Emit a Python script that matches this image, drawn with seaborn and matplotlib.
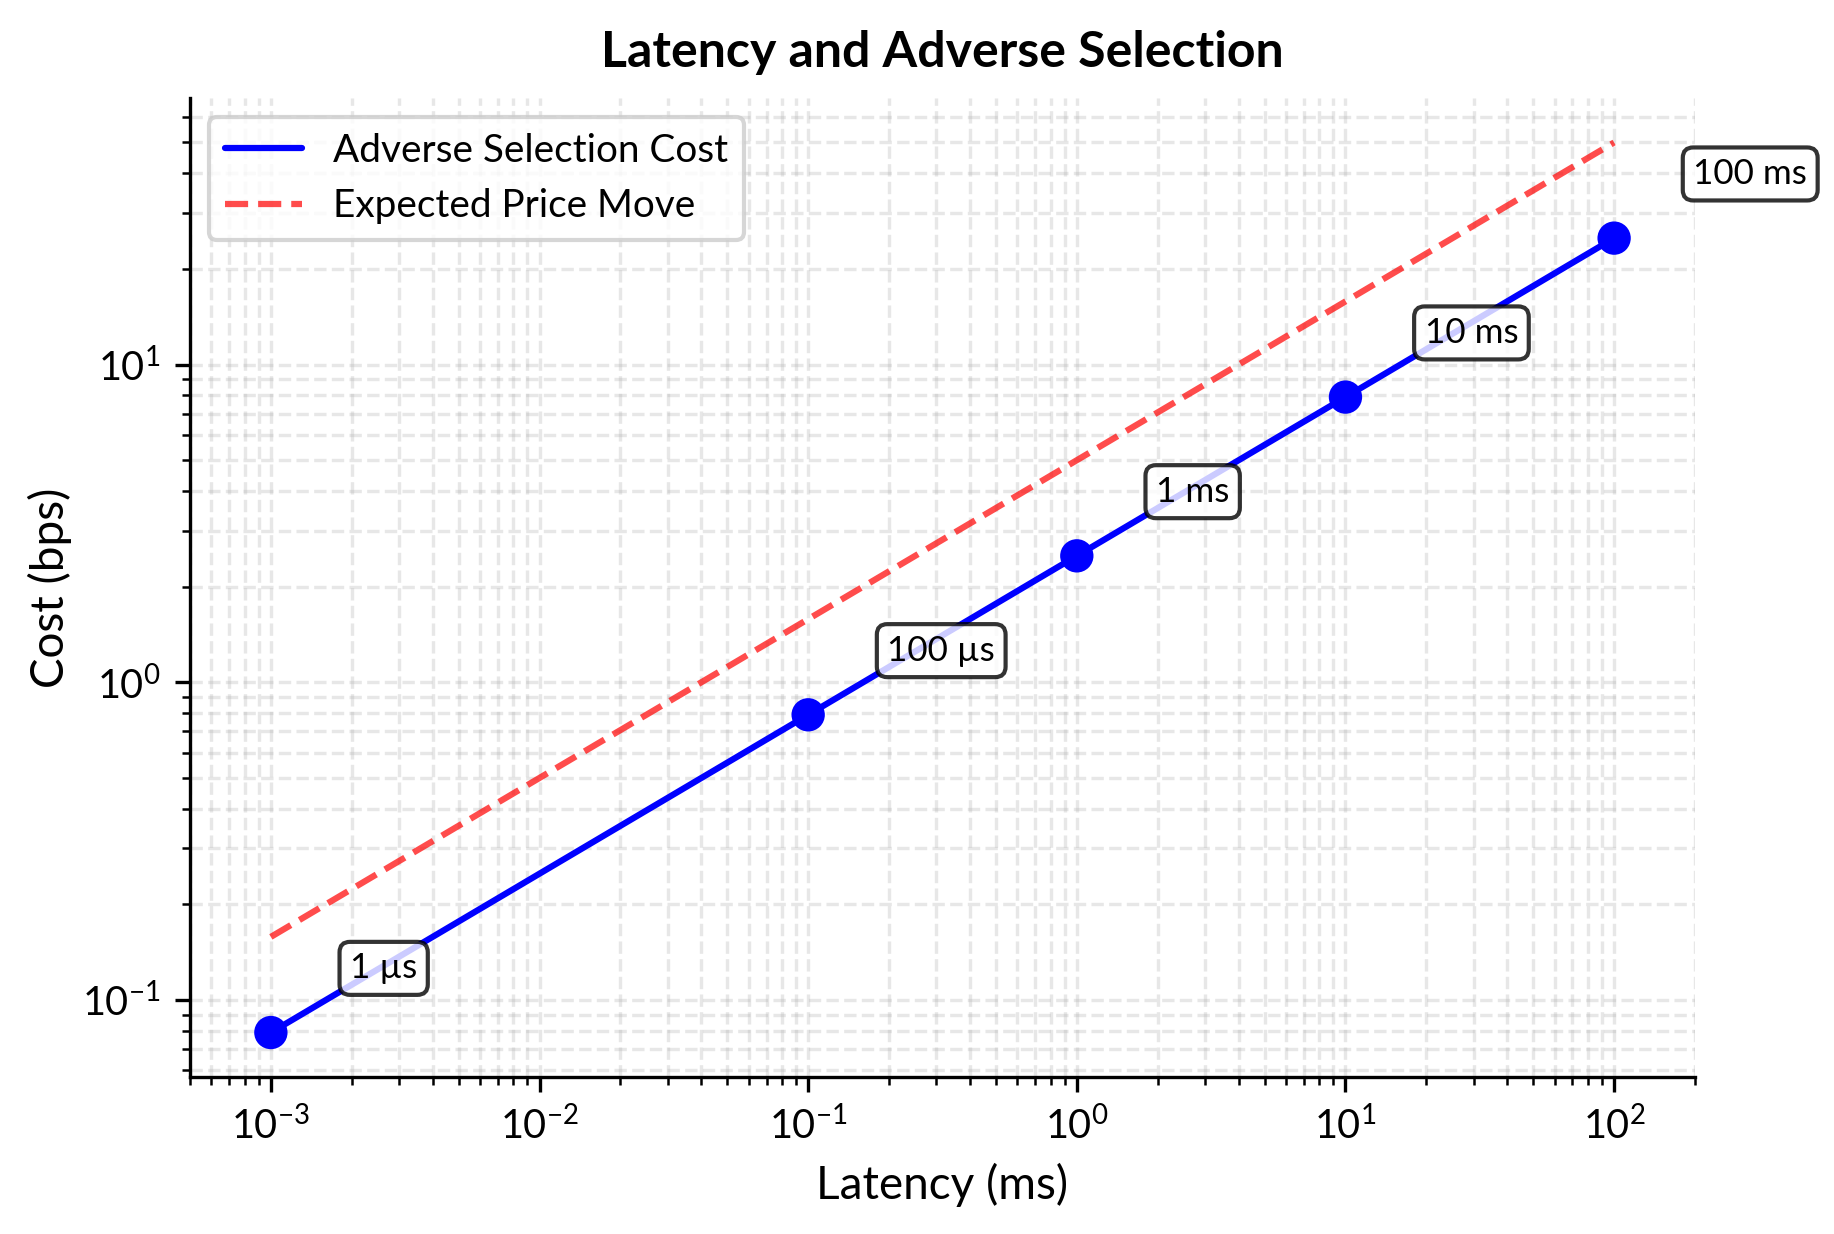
import numpy as np
import pandas as pd
import matplotlib
matplotlib.use("Agg")
import matplotlib.pyplot as plt
import seaborn as sns

# ---- data ----
latency_ms = [0.001, 0.1, 1.0, 10.0, 100.0]
adverse_cost_bps = [0.079, 0.79, 2.5, 7.9, 25.0]
point_labels = ["1 µs", "100 µs", "1 ms", "10 ms", "100 ms"]

move_latency_ms = [0.001, 0.01, 0.1, 1.0, 10.0, 100.0]
expected_move_bps = [0.158, 0.5, 1.58, 5.0, 15.8, 50.0]

sns.set_style("ticks")
FONT = "Lato"
plt.rcParams["font.family"] = [FONT, "DejaVu Sans"]
plt.rcParams["mathtext.fontset"] = "custom"
plt.rcParams["mathtext.rm"] = FONT
plt.rcParams["mathtext.it"] = FONT + ":italic"
plt.rcParams["mathtext.bf"] = FONT + ":bold"
plt.rcParams["text.color"] = "black"
plt.rcParams["axes.labelcolor"] = "black"
plt.rcParams["axes.edgecolor"] = "black"
plt.rcParams["axes.linewidth"] = 0.8
plt.rcParams["xtick.color"] = "black"
plt.rcParams["ytick.color"] = "black"
plt.rcParams["xtick.major.size"] = 3.5
plt.rcParams["ytick.major.size"] = 3.5
plt.rcParams["xtick.minor.size"] = 2
plt.rcParams["ytick.minor.size"] = 2
plt.rcParams["xtick.major.width"] = 0.8
plt.rcParams["ytick.major.width"] = 0.8
plt.rcParams["xtick.minor.width"] = 0.6
plt.rcParams["ytick.minor.width"] = 0.6

df_cost = pd.DataFrame({"latency": latency_ms, "cost": adverse_cost_bps})
df_move = pd.DataFrame({"latency": move_latency_ms, "move": expected_move_bps})

fig = plt.figure(figsize=(1834 / 300, 1234 / 300), dpi=300)
ax = fig.add_axes([0.1036, 0.1272, 0.9242 - 0.1036, 0.9206 - 0.1272])

sns.lineplot(data=df_cost, x="latency", y="cost", color="blue", lw=1.5,
             label="Adverse Selection Cost", ax=ax, zorder=3)
sns.scatterplot(data=df_cost, x="latency", y="cost", color="blue", s=64,
                edgecolor="none", ax=ax, zorder=3, legend=False)
sns.lineplot(data=df_move, x="latency", y="move", color="red", alpha=0.7,
             lw=1.5, ls="--", label="Expected Price Move", ax=ax, zorder=3)

ax.set_xscale("log")
ax.set_yscale("log")
ax.set_xlim(5e-4, 2e2)
ax.grid(True, which="both", ls="--", alpha=0.3, color="#b0b0b0", lw=0.8)
ax.set_axisbelow(True)

for xv, yv, lab in zip(latency_ms, adverse_cost_bps, point_labels):
    ax.annotate(lab, (xv, yv), xytext=(19, 13), textcoords="offset points",
                fontsize=8.4, ha="left", va="baseline", zorder=5,
                bbox=dict(boxstyle="round,pad=0.3", facecolor="white",
                          edgecolor="black", alpha=0.8))

ax.set_xlabel("Latency (ms)", fontsize=11)
ax.set_ylabel("Cost (bps)", fontsize=11, labelpad=2.5)
ax.set_title("Latency and Adverse Selection", fontsize=12, fontweight="bold", pad=7.5)
ax.tick_params(labelsize=9.5)
leg = ax.legend(loc="upper left", fontsize=9.3, frameon=True)
sns.despine(ax=ax)

fig.savefig("out.png", dpi=300)
